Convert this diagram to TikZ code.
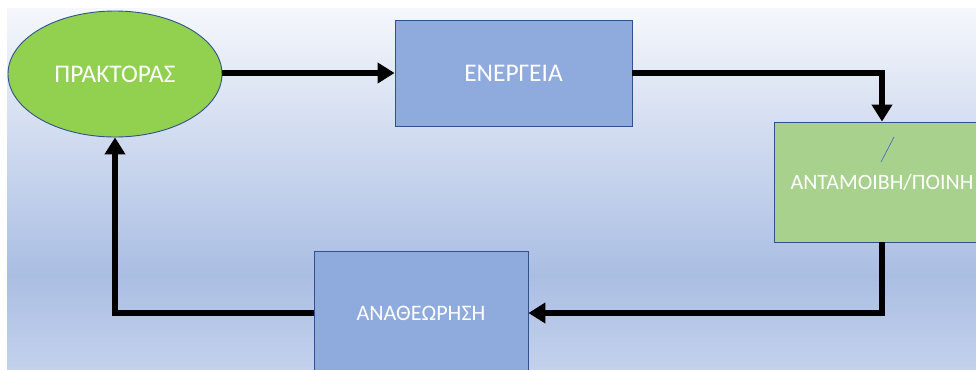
\documentclass[tikz,border=0pt]{standalone}
\usepackage{fontspec}
\setmainfont{Carlito}
\usetikzlibrary{arrows.meta, shapes.geometric}
\definecolor{LeafGreen}{HTML}{92D050}
\definecolor{SoftBlue}{HTML}{8FAADC}
\definecolor{SoftGreen}{HTML}{A9D18E}
\definecolor{EdgeBlue}{HTML}{2F528F}
\definecolor{LineBlue}{HTML}{4472C4}
\definecolor{BackTop}{HTML}{F5F7FC}
\definecolor{BackMid}{HTML}{AABEE3}
\definecolor{BackLow}{HTML}{C3D1EC}

\begin{document}
\begin{tikzpicture}[
    x=1bp, y=-1bp,
    box/.style={draw=EdgeBlue, line width=0.9bp, fill=SoftBlue, text=white, inner sep=0,
        font=\fontsize{25.5}{30}\selectfont},
    flow/.style={line width=5.5bp, -{Triangle[length=17bp, width=20bp]}},
]
\useasboundingbox (0,0) rectangle (976,369);
\clip (0,0) rectangle (976,369);

% ===== fondo =====
\fill[white] (0,0) rectangle (976,369);
\shade[top color=BackTop, bottom color=BackMid] (7,8) rectangle (976,275);
\shade[top color=BackMid, bottom color=BackLow] (7,274.5) rectangle (976,369);

% ===== nodos =====
\node[box, ellipse, fill=LeafGreen, minimum width=214bp, minimum height=126bp] (agent) at (115,74) {ΠΡΑΚΤΟΡΑΣ};
\node[box, minimum width=237bp, minimum height=106bp] (action) at (513.5,73) {ΕΝΕΡΓΕΙΑ};
\node[box, fill=SoftGreen, minimum width=216bp, minimum height=120bp,
    font=\fontsize{22}{26}\selectfont] (reward) at (882,182) {ΑΝΤΑΜΟΙΒΗ/ΠΟΙΝΗ};
\node[box, minimum width=214bp, minimum height=124bp,
    font=\fontsize{22.2}{26}\selectfont] (review) at (421,313) {ΑΝΑΘΕΩΡΗΣΗ};
\draw[LineBlue, line width=0.7bp] (881,162) -- (894,137);

% ===== flechas =====
\draw[flow] (agent.east |- action.west) -- (action.west);
\draw[flow] (action.east) -| (reward.north);
\draw[flow] (reward.south) |- (review.east);
\draw[flow] (review.west) -| (agent.south);

\end{tikzpicture}
\end{document}
